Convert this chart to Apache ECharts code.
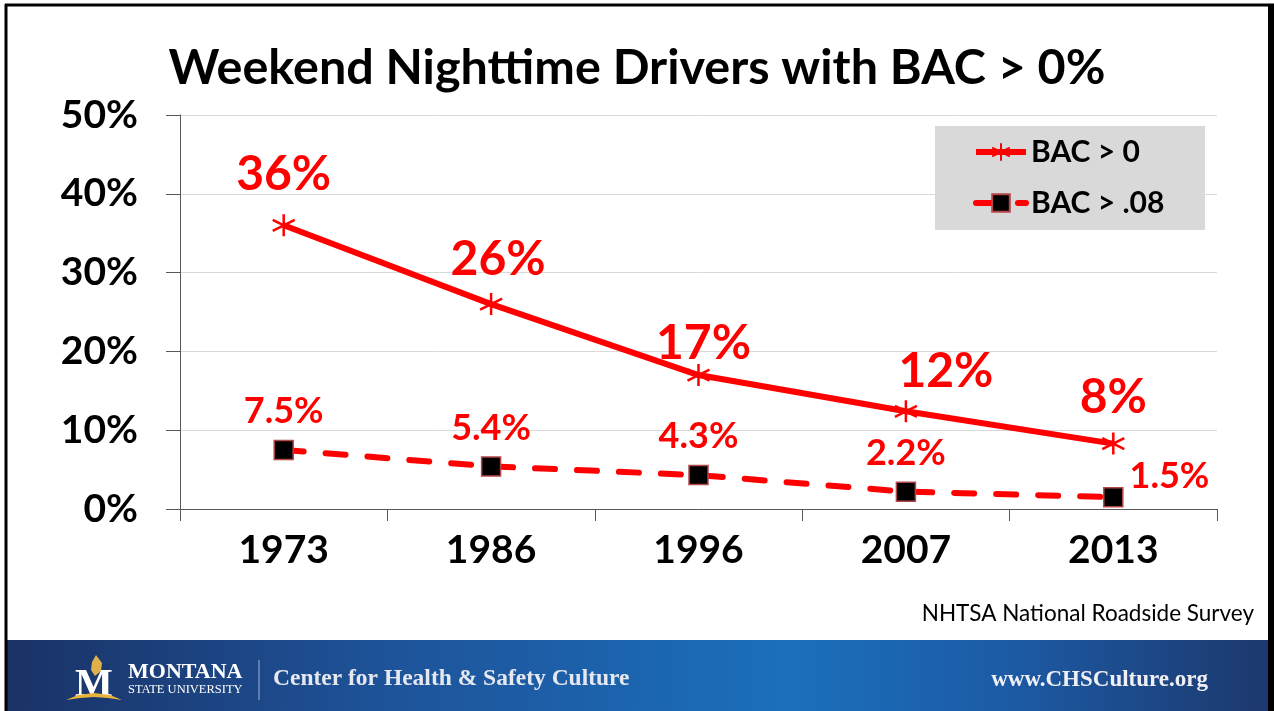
<!DOCTYPE html>
<html>
<head>
<meta charset="utf-8">
<title>Weekend Nighttime Drivers with BAC &gt; 0%</title>
<script src="https://cdn.jsdelivr.net/npm/echarts@6/dist/echarts.min.js"></script>
<style>
  html, body { margin: 0; padding: 0; background: #fff; }
  #chart { width: 1274px; height: 711px; }
</style>
</head>
<body>
<div id="chart"></div>
<script>
// survey years
const years = ["1973", "1986", "1996", "2007", "2013"];

// share of drivers (%)
const bacAny = [36, 26, 17, 12.4, 8.3];
const bacOver08 = [7.5, 5.4, 4.3, 2.2, 1.5];

// value labels as shown on the slide
const bacAnyLabels = ["36%", "26%", "17%", "12%", "8%"];
const bacOver08Labels = ["7.5%", "5.4%", "4.3%", "2.2%", "1.5%"];

const yTicks = [0, 10, 20, 30, 40, 50];

// label nudges (styling only)
const anyOffsets = [[0, -7], [7, 0], [5, 13], [40, 4], [0, -2]];

const font = "Lato, 'Open Sans', sans-serif";
const serif = "'Liberation Serif', 'DejaVu Serif', serif";

const chart = echarts.init(document.getElementById("chart"));

const asterisk = "path://M10,0L10,20M1.3,5L18.7,15M1.3,15L18.7,5";

chart.setOption({
  animation: false,
  title: {
    text: "Weekend Nighttime Drivers with BAC > 0%",
    left: "center",
    top: 39,
    textStyle: { fontFamily: font, fontSize: 48.5, fontWeight: "bold", color: "#000" }
  },
  grid: { left: 180, right: 57, top: 115, bottom: 202, containLabel: false },
  legend: {
    orient: "vertical",
    left: 973,
    top: 136,
    padding: 0,
    itemWidth: 50,
    itemHeight: 22,
    itemGap: 19,
    lineStyle: { width: 6 },
    textStyle: { fontFamily: font, fontSize: 30, fontWeight: "bold", color: "#000", lineHeight: 32 },
    data: ["BAC > 0", "BAC > .08"]
  },
  xAxis: {
    type: "category",
    data: years,
    boundaryGap: true,
    axisLine: { lineStyle: { color: "#595959", width: 1 } },
    axisTick: { show: true, length: 12, lineStyle: { color: "#595959" } },
    axisLabel: { fontFamily: font, fontSize: 39, fontWeight: "bold", color: "#000", margin: 22 }
  },
  yAxis: {
    type: "value",
    min: yTicks[0],
    max: yTicks[yTicks.length - 1],
    interval: 10,
    axisLine: { show: true, lineStyle: { color: "#595959", width: 1 } },
    axisTick: { show: true, length: 14, lineStyle: { color: "#595959" } },
    splitLine: { lineStyle: { color: "#d9d9d9", width: 1 } },
    axisLabel: {
      fontFamily: font, fontSize: 39, fontWeight: "bold", color: "#000", margin: 42,
      formatter: "{value}%"
    }
  },
  series: [
    {
      name: "BAC > 0",
      type: "line",
      data: bacAny,
      symbol: asterisk,
      symbolSize: 22,
      lineStyle: { color: "#ff0000", width: 6 },
      itemStyle: { color: "#ff0000", borderColor: "#ff0000", borderWidth: 2.5 },
      label: {
        show: true,
        position: "top",
        distance: 8,
        fontFamily: font, fontSize: 48, fontWeight: "bold", color: "#ff0000",
        formatter: p => bacAnyLabels[p.dataIndex]
      },
      labelLayout: p => ({ dx: anyOffsets[p.dataIndex][0], dy: anyOffsets[p.dataIndex][1] }),
      z: 3
    },
    {
      name: "BAC > .08",
      type: "line",
      data: bacOver08.map((v, i) => i === 4
        ? { value: v, label: { position: "right", distance: 6, offset: [0, -21] } }
        : v),
      symbol: "rect",
      symbolSize: 19,
      lineStyle: { color: "#ff0000", width: 6, type: [20, 22], cap: "round" },
      itemStyle: { color: "#000", borderColor: "#b5474a", borderWidth: 1.5 },
      label: {
        show: true,
        position: "top",
        distance: 10,
        fontFamily: font, fontSize: 36, fontWeight: "bold", color: "#ff0000",
        formatter: p => bacOver08Labels[p.dataIndex]
      },
      z: 4
    }
  ],
  graphic: [
    // legend box
    { type: "rect", z: -1, silent: true, shape: { x: 935, y: 126, width: 270, height: 104 }, style: { fill: "#d9d9d9" } },
    // source note
    {
      type: "text", z: 5, x: 1254, y: 614,
      style: { text: "NHTSA National Roadside Survey", fontFamily: font, fontSize: 22.5, fill: "#000", textAlign: "right", textVerticalAlign: "middle" }
    },
    // footer banner
    {
      type: "rect", z: 10,
      shape: { x: 7, y: 640, width: 1261, height: 71 },
      style: {
        fill: new echarts.graphic.LinearGradient(0, 0, 1, 0, [
          { offset: 0, color: "#1a3266" },
          { offset: 0.3, color: "#1e5399" },
          { offset: 0.62, color: "#1b6fbc" },
          { offset: 0.8, color: "#1c5aa4" },
          { offset: 1, color: "#1d386d" }
        ])
      }
    },
    // logo: flame
    {
      type: "polygon", z: 11,
      shape: { points: [[96, 655], [102, 663], [101, 671], [95, 676], [91, 670], [92, 662]] },
      style: { fill: "#e0b04a" }
    },
    // logo: M
    {
      type: "text", z: 11, x: 94, y: 686,
      style: { text: "M", fontFamily: serif, fontSize: 40, fontWeight: "bold", fill: "#fff", textAlign: "center", textVerticalAlign: "middle" }
    },
    // logo: swoosh
    {
      type: "polygon", z: 11,
      shape: { points: [[66, 700], [78, 695], [94, 693], [110, 695], [122, 700], [108, 698], [94, 697], [80, 698]] },
      style: { fill: "#e8b43c" }
    },
    {
      type: "text", z: 11, x: 128, y: 672,
      style: { text: "MONTANA", fontFamily: serif, fontSize: 22, fontWeight: "bold", fill: "#fff", textVerticalAlign: "middle" }
    },
    {
      type: "text", z: 11, x: 128, y: 690,
      style: { text: "STATE UNIVERSITY", fontFamily: serif, fontSize: 12.5, fill: "#fff", textVerticalAlign: "middle" }
    },
    {
      type: "line", z: 11,
      shape: { x1: 259, y1: 660, x2: 259, y2: 700 },
      style: { stroke: "#9fb3d6", lineWidth: 1 }
    },
    {
      type: "text", z: 11, x: 273, y: 679,
      style: { text: "Center for Health & Safety Culture", fontFamily: serif, fontSize: 23.5, fontWeight: "bold", fill: "#e6e8f0", textVerticalAlign: "middle" }
    },
    {
      type: "text", z: 11, x: 1208, y: 680,
      style: { text: "www.CHSCulture.org", fontFamily: serif, fontSize: 23, fontWeight: "bold", fill: "#f0f0f4", textAlign: "right", textVerticalAlign: "middle" }
    },
    // slide frame
    { type: "line", z: 12, shape: { x1: 5, y1: 5, x2: 1274, y2: 5 }, style: { stroke: "#000", lineWidth: 3 } },
    { type: "line", z: 12, shape: { x1: 6, y1: 4, x2: 6, y2: 711 }, style: { stroke: "#000", lineWidth: 3 } },
    { type: "rect", z: 12, shape: { x: 1268, y: 4, width: 6, height: 707 }, style: { fill: "#000" } }
  ]
});
</script>
</body>
</html>
